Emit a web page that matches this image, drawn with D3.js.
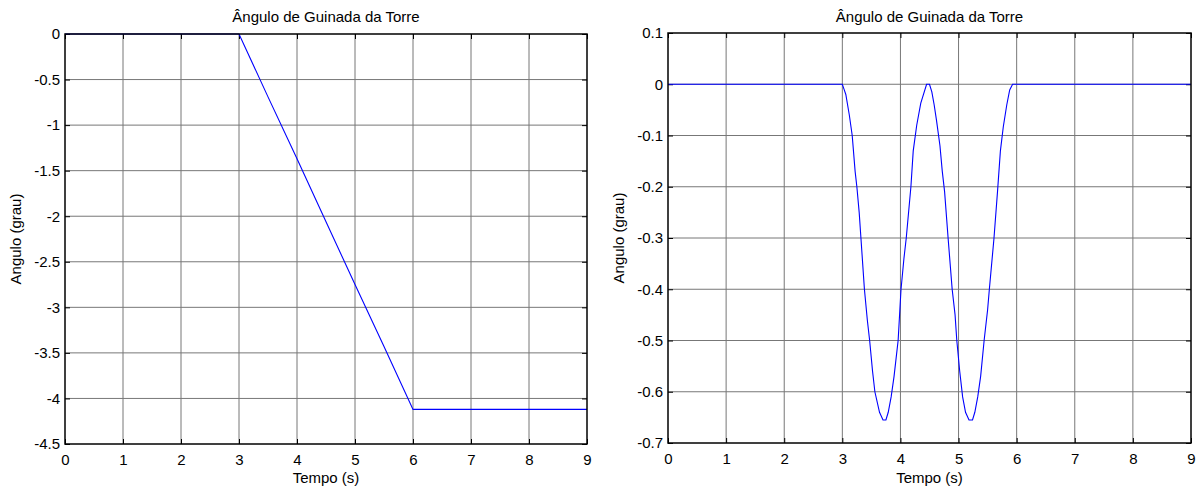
<!DOCTYPE html>
<html lang="pt">
<head>
    <meta charset="UTF-8">
    <title>Ângulo de Guinada da Torre</title>
    <script src="https://cdn.jsdelivr.net/npm/d3@7"></script>
    <style>
        body { margin: 0; background: #fff; }
        text { font-family: "Liberation Sans", Arial, sans-serif; fill: #000; }
    </style>
</head>
<body>
    <script>
        // dados
        const xTicks = [0, 1, 2, 3, 4, 5, 6, 7, 8, 9];
        const yTicksLeft = [0, -0.5, -1, -1.5, -2, -2.5, -3, -3.5, -4, -4.5];
        const yTicksRight = [0.1, 0, -0.1, -0.2, -0.3, -0.4, -0.5, -0.6, -0.7];

        // painel esquerdo: rampa
        const tempoLeft = [0, 3, 3.5, 4, 4.5, 5, 5.5, 6, 9];
        const anguloLeft = [0, 0, -0.69, -1.37, -2.06, -2.75, -3.43, -4.12, -4.12];

        // painel direito: duas oscilações
        const tempoRight = [0, 3.0, 3.03, 3.06, 3.12, 3.17, 3.22, 3.25, 3.29, 3.32, 3.38, 3.43, 3.47, 3.52, 3.56, 3.64,
            3.70, 3.75, 3.79, 3.84, 3.89, 3.96, 4.01, 4.06, 4.10, 4.18, 4.22, 4.28, 4.35, 4.45, 4.50,
            4.54, 4.58, 4.62, 4.68, 4.72, 4.76, 4.82, 4.89, 4.94, 4.97, 5.02, 5.07, 5.12, 5.18, 5.24,
            5.28, 5.33, 5.38, 5.44, 5.50, 5.53, 5.61, 5.67, 5.72, 5.77, 5.83, 5.88, 5.93, 9];
        const anguloRight = [0, 0, -0.01, -0.02, -0.06, -0.10, -0.17, -0.20, -0.25, -0.30, -0.40, -0.46, -0.50, -0.56, -0.60, -0.64,
            -0.655, -0.655, -0.64, -0.61, -0.57, -0.50, -0.40, -0.34, -0.30, -0.20, -0.13, -0.08, -0.037, 0, 0,
            -0.015, -0.04, -0.07, -0.12, -0.17, -0.21, -0.30, -0.40, -0.45, -0.50, -0.56, -0.61, -0.64, -0.655, -0.655,
            -0.64, -0.61, -0.57, -0.50, -0.44, -0.40, -0.30, -0.21, -0.13, -0.083, -0.04, -0.011, 0, 0];

        const width = 1204, height = 490, fontSize = 15;
        const svg = d3.select('body').append('svg')
                        .attr('width', width)
                        .attr('height', height);

        function drawPanel(left, right, top, bottom, yDomain, yTicks, xs, ys) {
            const x = d3.scaleLinear().domain([0, 9]).range([left, right]);
            const y = d3.scaleLinear().domain(yDomain).range([bottom, top]);
            const g = svg.append('g');
            const fmt = d => String(d);

            // grade
            g.selectAll('.gx').data(xTicks.slice(1, -1)).enter().append('line')
                .attr('x1', d => x(d)).attr('x2', d => x(d))
                .attr('y1', top).attr('y2', bottom)
                .attr('stroke', '#777').attr('stroke-width', 1);
            g.selectAll('.gy').data(yTicks.filter(d => d !== yDomain[0] && d !== yDomain[1])).enter().append('line')
                .attr('y1', d => y(d)).attr('y2', d => y(d))
                .attr('x1', left).attr('x2', right)
                .attr('stroke', '#777').attr('stroke-width', 1);

            // eixos com ticks para dentro
            g.append('g').attr('transform', `translate(0,${bottom})`)
                .call(d3.axisBottom(x).tickValues(xTicks).tickFormat(fmt).tickSizeInner(-5).tickSizeOuter(0).tickPadding(10));
            g.append('g').attr('transform', `translate(0,${top})`)
                .call(d3.axisTop(x).tickValues(xTicks).tickFormat('').tickSizeInner(-5).tickSizeOuter(0));
            g.append('g').attr('transform', `translate(${left},0)`)
                .call(d3.axisLeft(y).tickValues(yTicks).tickFormat(fmt).tickSizeInner(-5).tickSizeOuter(0).tickPadding(5));
            g.append('g').attr('transform', `translate(${right},0)`)
                .call(d3.axisRight(y).tickValues(yTicks).tickFormat('').tickSizeInner(-5).tickSizeOuter(0));
            g.selectAll('.domain').remove();
            g.selectAll('.tick line').attr('stroke', '#000');
            g.selectAll('.tick text').attr('font-size', fontSize).attr('font-family', '"Liberation Sans", Arial, sans-serif');

            // curva
            const line = d3.line().x((d, i) => x(xs[i])).y((d, i) => y(ys[i]));
            g.append('path').datum(xs)
                .attr('d', line)
                .attr('fill', 'none')
                .attr('stroke', '#0000ff')
                .attr('stroke-width', 1.1);

            // caixa
            g.append('rect')
                .attr('x', left).attr('y', top)
                .attr('width', right - left).attr('height', bottom - top)
                .attr('fill', 'none').attr('stroke', '#000').attr('stroke-width', 1.5);

            const cx = (left + right) / 2;
            g.append('text').attr('x', cx).attr('y', 22)
                .attr('text-anchor', 'middle').attr('font-size', fontSize)
                .text('Ângulo de Guinada da Torre');
            g.append('text').attr('x', cx).attr('y', 483)
                .attr('text-anchor', 'middle').attr('font-size', fontSize)
                .text('Tempo (s)');
            g.append('text')
                .attr('transform', `translate(${left - 44},${(top + bottom) / 2}) rotate(-90)`)
                .attr('text-anchor', 'middle').attr('font-size', fontSize)
                .text('Angulo (grau)');
        }

        drawPanel(65, 587, 34, 444, [-4.5, 0], yTicksLeft, tempoLeft, anguloLeft);
        drawPanel(668, 1191, 33, 443, [-0.7, 0.1], yTicksRight, tempoRight, anguloRight);
    </script>
</body>
</html>
